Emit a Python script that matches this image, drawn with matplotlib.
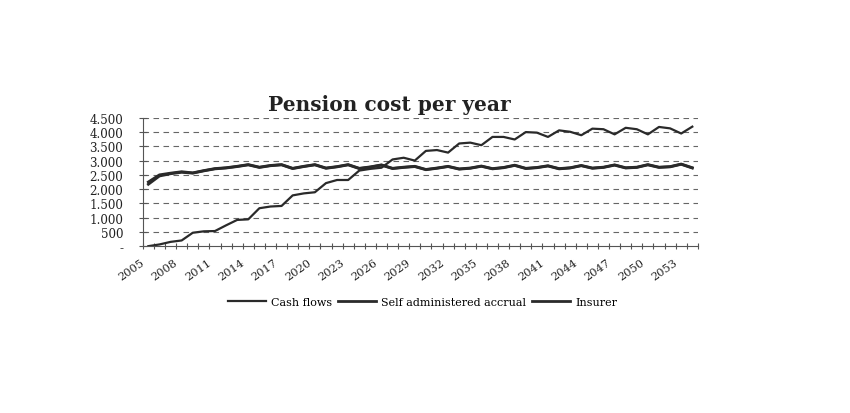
import matplotlib
matplotlib.use("Agg")
import matplotlib.pyplot as plt
import numpy as np

years = list(range(2005, 2055))
cash_flows = [0, 60, 150, 200, 470, 520, 530, 730, 920, 940,
              1330, 1390, 1410, 1780, 1850, 1890, 2210, 2320, 2320, 2650,
              2710, 2750, 3040, 3100, 3000, 3340, 3370, 3280, 3600, 3630,
              3540, 3830, 3830, 3740, 4000, 3980, 3830, 4060, 4010, 3890,
              4120, 4100, 3920, 4150, 4100, 3920, 4180, 4130, 3950, 4190]
self_admin = [2170, 2460, 2540, 2590, 2560, 2640, 2710, 2740, 2790, 2850,
              2760, 2820, 2850, 2720, 2790, 2850, 2730, 2780, 2850, 2720,
              2770, 2840, 2720, 2760, 2790, 2680, 2730, 2790, 2700, 2730,
              2800, 2710, 2750, 2830, 2720, 2750, 2810, 2710, 2740, 2820,
              2730, 2760, 2840, 2740, 2760, 2850, 2760, 2780, 2870, 2740]
insurer = [2250, 2500, 2560, 2610, 2570, 2650, 2720, 2750, 2800, 2860,
           2770, 2830, 2860, 2730, 2800, 2860, 2740, 2790, 2860, 2730,
           2780, 2850, 2730, 2770, 2800, 2690, 2740, 2800, 2710, 2740,
           2810, 2720, 2760, 2840, 2730, 2760, 2820, 2720, 2750, 2830,
           2740, 2770, 2850, 2750, 2770, 2860, 2770, 2790, 2880, 2750]
series_names = ["Cash flows", "Self administered accrual", "Insurer"]
y_ticks = [0, 500, 1000, 1500, 2000, 2500, 3000, 3500, 4000, 4500]
y_tick_labels = ["-", "500", "1.000", "1.500", "2.000", "2.500", "3.000", "3.500", "4.000", "4.500"]

serif = ["DejaVu Serif", "Liberation Serif"]
plt.rcParams["font.family"] = serif

fig = plt.figure(figsize=(8.5, 4.14), dpi=100)
ax = fig.add_axes([0.168, 0.403, 0.653, 0.31])

x = np.arange(len(years))
col = "#2a2a2a"
ax.plot(x, cash_flows, color=col, lw=1.6, label=series_names[0])
ax.plot(x, self_admin, color=col, lw=2.0, label=series_names[1])
ax.plot(x, insurer, color=col, lw=2.0, label=series_names[2])

ax.set_xlim(-0.5, len(years) - 0.5)
ax.set_ylim(0, 4500)
ax.set_yticks(y_ticks)
ax.set_yticklabels(y_tick_labels, fontsize=8.6, color="#222222")
for v in y_ticks[1:]:
    ax.axhline(v, color="#666666", lw=0.8, ls=(0, (5, 4)), zorder=0)

# category labels every third year, placed like Excel's rotated labels
major = x[::3]
ax.set_xticks([])
for i in major:
    ax.annotate(str(years[i]), xy=(i, 0), xycoords=ax.get_xaxis_transform(),
                xytext=(-8, -11), textcoords="offset pixels",
                rotation=35, ha="right", va="top", rotation_mode="anchor",
                fontsize=8.2, color="#222222", annotation_clip=False)
ax.set_xticks(np.arange(-0.5, len(years) + 0.5, 1), minor=True)
ax.tick_params(axis="x", which="minor", length=4, width=0.8, color="#555555", direction="inout")
ax.tick_params(axis="y", length=6, width=0.8, color="#555555", direction="inout", pad=11)

for s in ["top", "right"]:
    ax.spines[s].set_visible(False)
ax.spines["left"].set_color("#555555")
ax.spines["bottom"].set_color("#555555")
ax.spines["left"].set_linewidth(0.8)
ax.spines["bottom"].set_linewidth(0.8)

fig.text(0.458, 0.746, "Pension cost per year", ha="center", va="center",
         fontsize=14.5, fontweight="bold", color="#222222")

fig.legend(loc="center", bbox_to_anchor=(0.497, 0.268), ncol=3, frameon=False,
           fontsize=8.0, handlelength=3.4, columnspacing=0.5, handletextpad=0.5)

fig.savefig("out.png", dpi=100, facecolor="white")
